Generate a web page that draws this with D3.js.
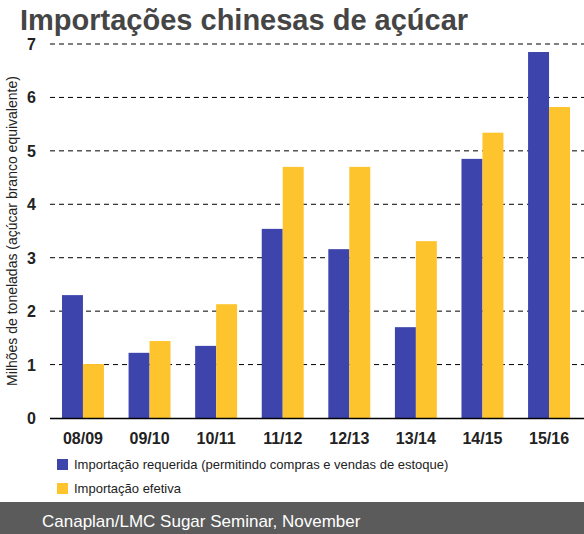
<!DOCTYPE html>
<html><head><meta charset="utf-8">
<script src="https://cdn.jsdelivr.net/npm/d3@7"></script>
<style>body{margin:0;background:#fff}svg{display:block;font-family:"Liberation Sans",Arial,sans-serif}</style>
</head><body><svg id="c" width="584" height="534"></svg>
<script>
var seasons = ['08/09', '09/10', '10/11', '11/12', '12/13', '13/14', '14/15', '15/16'];
var requerida = [2.30, 1.22, 1.35, 3.54, 3.16, 1.70, 4.85, 6.85];
var efetiva = [1.01, 1.44, 2.13, 4.70, 4.70, 3.31, 5.34, 5.82];
var yTicks = [0, 1, 2, 3, 4, 5, 6, 7];
var names = ['Importação requerida (permitindo compras e vendas de estoque)', 'Importação efetiva'];
var colors = ['#3d45ad', '#fec42d'];

var svg = d3.select('#c');
var x = d3.scaleBand().domain(seasons).range([50, 582]).paddingInner(0.37).paddingOuter(0.18);
var y = d3.scaleLinear().domain([0, 7]).range([418, 44]);

svg.append('text').attr('x', 20).attr('y', 30).attr('font-size', 29).attr('font-weight', 'bold')
	.attr('fill', '#454545').text('Importações chinesas de açúcar');

// grid
svg.selectAll('.g').data(yTicks.slice(1)).enter().append('line')
	.attr('x1', 50).attr('x2', 584)
	.attr('y1', function(d) { return y(d); }).attr('y2', function(d) { return y(d); })
	.attr('stroke', '#000').attr('stroke-dasharray', '5,4').attr('stroke-width', 1);

svg.selectAll('.yl').data(yTicks).enter().append('text')
	.attr('x', 36).attr('y', function(d) { return y(d) + 6; }).attr('text-anchor', 'end')
	.attr('font-size', 16).attr('font-weight', 'bold').attr('fill', '#222').text(function(d) { return d; });

svg.append('text').attr('transform', 'translate(17,231) rotate(-90)').attr('text-anchor', 'middle')
	.attr('font-size', 14).attr('fill', '#222').text('Milhões de toneladas (açúcar branco equivalente)');

var bw = x.bandwidth() / 2;
[requerida, efetiva].forEach(function(s, i) {
	svg.selectAll('.b' + i).data(s).enter().append('rect')
		.attr('x', function(d, j) { return x(seasons[j]) + i * bw; })
		.attr('y', function(d) { return y(d); })
		.attr('width', bw).attr('height', function(d) { return y(0) - y(d); })
		.attr('fill', colors[i]);
});

svg.append('line').attr('x1', 50).attr('x2', 584).attr('y1', 418.5).attr('y2', 418.5).attr('stroke', '#000').attr('stroke-width', 1.5);

svg.selectAll('.xl').data(seasons).enter().append('text')
	.attr('x', function(d) { return x(d) + x.bandwidth() / 2; }).attr('y', 444).attr('text-anchor', 'middle')
	.attr('font-size', 16).attr('font-weight', 'bold').attr('fill', '#222').text(function(d) { return d; });

names.forEach(function(n, i) {
	svg.append('rect').attr('x', 57).attr('y', 459 + i * 24).attr('width', 11).attr('height', 11).attr('fill', colors[i]);
	svg.append('text').attr('x', 74).attr('y', 469 + i * 24).attr('font-size', 13).attr('fill', '#222').text(n);
});

svg.append('rect').attr('x', 0).attr('y', 502).attr('width', 584).attr('height', 32).attr('fill', '#5b5b5b');
svg.append('text').attr('x', 42).attr('y', 527).attr('font-size', 17).attr('fill', '#fff').text('Canaplan/LMC Sugar Seminar, November');
</script></body></html>
